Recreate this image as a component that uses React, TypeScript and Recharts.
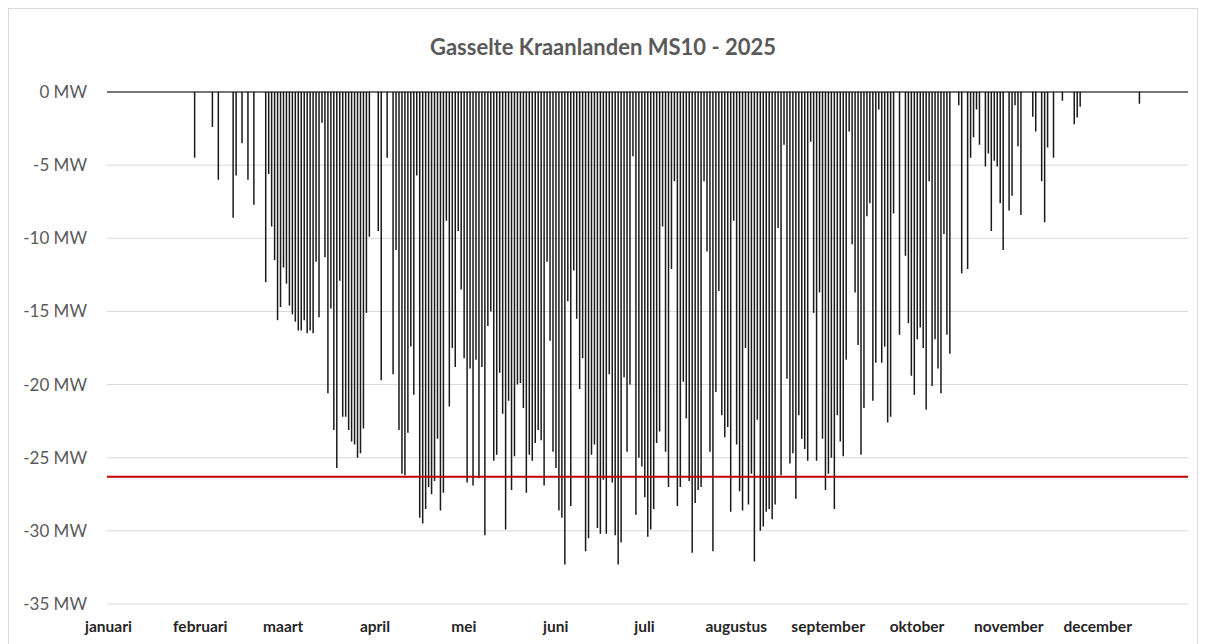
import { BarChart, Bar, XAxis, YAxis, CartesianGrid, ReferenceLine } from 'recharts';

const MONTHS = ['januari', 'februari', 'maart', 'april', 'mei', 'juni', 'juli', 'augustus', 'september', 'oktober', 'november', 'december'];

// laagste vermogen per dag in MW (negatief = teruglevering), per maand
const JAN = [0, 0, 0, 0, 0, 0, 0, 0, 0, 0, 0, 0, 0, 0, 0, 0, 0, 0, 0, 0, 0, 0, 0, 0, 0, 0, 0, 0, 0, -4.5, 0];
const FEB = [0, 0, 0, 0, -2.4, 0, -6.0, 0, 0, 0, 0, -8.6, -5.7, 0, -3.5, 0, -6.0, 0, -7.7, 0, 0, 0, -13.0, -5.6, -9.2, -11.5, -15.6, -14.7];
const MAR = [-12.0, -13.1, -14.6, -15.2, -15.7, -16.3, -16.3, -15.6, -16.5, -16.3, -16.5, -11.6, -15.4, -2.1, -11.3, -20.6, -14.8, -23.1, -25.7, -12.9, -22.2, -22.2, -23.1, -23.9, -24.1, -25.0, -24.7, -23.0, -15.1, -9.9, 0];
const APR = [0, -9.5, -19.7, 0, -4.5, 0, -19.3, -10.8, -23.1, -26.1, -26.2, -23.3, -17.4, -20.7, -5.7, -29.1, -29.5, -28.5, -27.0, -27.5, -26.6, -23.7, -28.6, -27.4, -8.8, -21.5, -17.5, -18.8, -9.5, -13.5];
const MAY = [-18.2, -26.7, -18.9, -26.9, -18.3, -26.4, -18.8, -30.3, -16.0, -15.0, -25.2, -24.8, -19.2, -22.0, -29.9, -21.1, -27.2, -24.9, -20.0, -19.9, -21.6, -27.4, -24.8, -25.2, -24.0, -23.1, -23.8, -26.9, -11.6, -17.0, -24.6];
const JUN = [-25.7, -28.6, -29.1, -32.3, -14.3, -28.3, -12.2, -15.5, -20.3, -18.2, -31.4, -30.5, -24.8, -24.1, -29.8, -30.2, -26.5, -30.2, -19.3, -26.7, -30.3, -32.3, -30.8, -19.5, -24.6, -20.0, -4.4, -28.9, -25.0, -25.6];
const JUL = [-27.7, -30.4, -29.9, -28.5, -24.0, -23.2, -9.2, -24.6, -27.0, -12.1, -6.1, -28.3, -27.0, -19.8, -22.3, -26.6, -31.5, -28.1, -27.2, -27.0, -6.1, -10.9, -24.6, -31.4, -20.5, -13.6, -22.1, -23.6, -22.9, -28.7, -8.8];
const AUG = [-24.1, -27.3, -28.6, -17.5, -28.2, -26.1, -32.1, -22.4, -30.0, -29.7, -28.7, -28.5, -29.2, -28.2, -9.3, -26.2, -3.6, -19.6, -25.4, -24.7, -27.8, -22.1, -23.7, -24.4, -25.2, -3.4, -15.1, -25.2, -13.7, -23.7, -27.2];
const SEP = [-26.1, -25.0, -28.5, -22.1, -23.9, -24.9, -18.3, -2.7, -10.4, -13.7, -17.3, -24.8, -21.6, -8.5, -7.6, -21.1, -18.5, -1.2, -18.5, -17.4, -22.6, -22.2, -8.3, 0, -16.6, 0, -11.2, -15.8, -19.4, -20.7];
const OCT = [-16.9, -16.1, -17.5, -21.7, -6.1, -20.1, -16.9, -18.9, -20.6, -9.7, -16.6, -17.9, 0, 0, -0.9, -12.4, 0, -12.1, -4.5, -3.1, -1.2, -3.6, 0, -5.1, -4.2, -9.5, -4.7, -5.1, -7.6, -10.8, 0];
const NOV = [-8.1, -7.1, -0.9, -3.7, -8.4, 0, 0, 0, -1.7, -2.7, 0, -6.1, -8.9, -3.8, 0, -4.5, 0, 0, -0.6, 0, 0, 0, -2.2, -1.75, -1.0, 0, 0, 0, 0, 0];
const DEC = [0, 0, 0, 0, 0, 0, 0, 0, 0, 0, 0, 0, 0, 0, -0.8, 0, 0, 0, 0, 0, 0, 0, 0, 0, 0, 0, 0, 0, 0, 0, 0];

const Y_TICKS = [0, -5, -10, -15, -20, -25, -30, -35];
const LIMIT = -26.3;

const monthStart: number[] = [];
const data: { d: number; mw: number }[] = [];
[JAN, FEB, MAR, APR, MAY, JUN, JUL, AUG, SEP, OCT, NOV, DEC].forEach((days) => {
  monthStart.push(data.length);
  days.forEach((v) => data.push({ d: data.length, mw: v }));
});

const monthLabel = (d: number) => MONTHS[monthStart.indexOf(d)] ?? '';

export default function App() {
  return (
    <div
      style={{
        position: 'relative',
        width: 1190,
        height: 650,
        border: '1px solid #d9d9d9',
        boxSizing: 'border-box',
        background: '#fff',
        fontFamily: 'Lato, sans-serif',
      }}
    >
      <div
        style={{
          position: 'absolute',
          top: 25,
          left: 0,
          width: '100%',
          textAlign: 'center',
          fontSize: 22,
          lineHeight: '26px',
          fontWeight: 700,
          color: '#595959',
        }}
      >
        Gasselte Kraanlanden MS10 - 2025
      </div>
      <div style={{ position: 'absolute', top: 0, left: 0 }}>
        <BarChart width={1188} height={640} data={data} margin={{ top: 83, right: 9, left: 0, bottom: 15 }}>
          <CartesianGrid vertical={false} stroke="#d9d9d9" />
          <XAxis
            xAxisId="bottom"
            dataKey="d"
            height={30}
            ticks={monthStart}
            interval={0}
            tickFormatter={monthLabel}
            axisLine={false}
            tickLine={false}
            tickSize={6}
            tickMargin={11}
            tick={{ fontSize: 15.5, fontWeight: 700, fill: '#262626' }}
          />
          <XAxis
            xAxisId="top"
            orientation="top"
            mirror
            dataKey="d"
            ticks={monthStart}
            interval={0}
            tick={false}
            tickSize={4}
            axisLine={{ stroke: '#000', strokeWidth: 1 }}
            tickLine={{ stroke: '#bfbfbf' }}
          />
          <YAxis
            width={98}
            domain={[-35, 0]}
            ticks={Y_TICKS}
            interval={0}
            allowDataOverflow
            axisLine={false}
            tickLine={false}
            tickSize={0}
            tickMargin={20}
            tickFormatter={(v: number) => `${v} MW`}
            tick={{ fontSize: 17, fill: '#595959' }}
          />
          <Bar xAxisId="bottom" dataKey="mw" fill="#1a1a1a" barSize={1.5} isAnimationActive={false} />
          <ReferenceLine xAxisId="bottom" y={LIMIT} stroke="#c00000" strokeWidth={2} ifOverflow="extendDomain" />
        </BarChart>
      </div>
    </div>
  );
}
